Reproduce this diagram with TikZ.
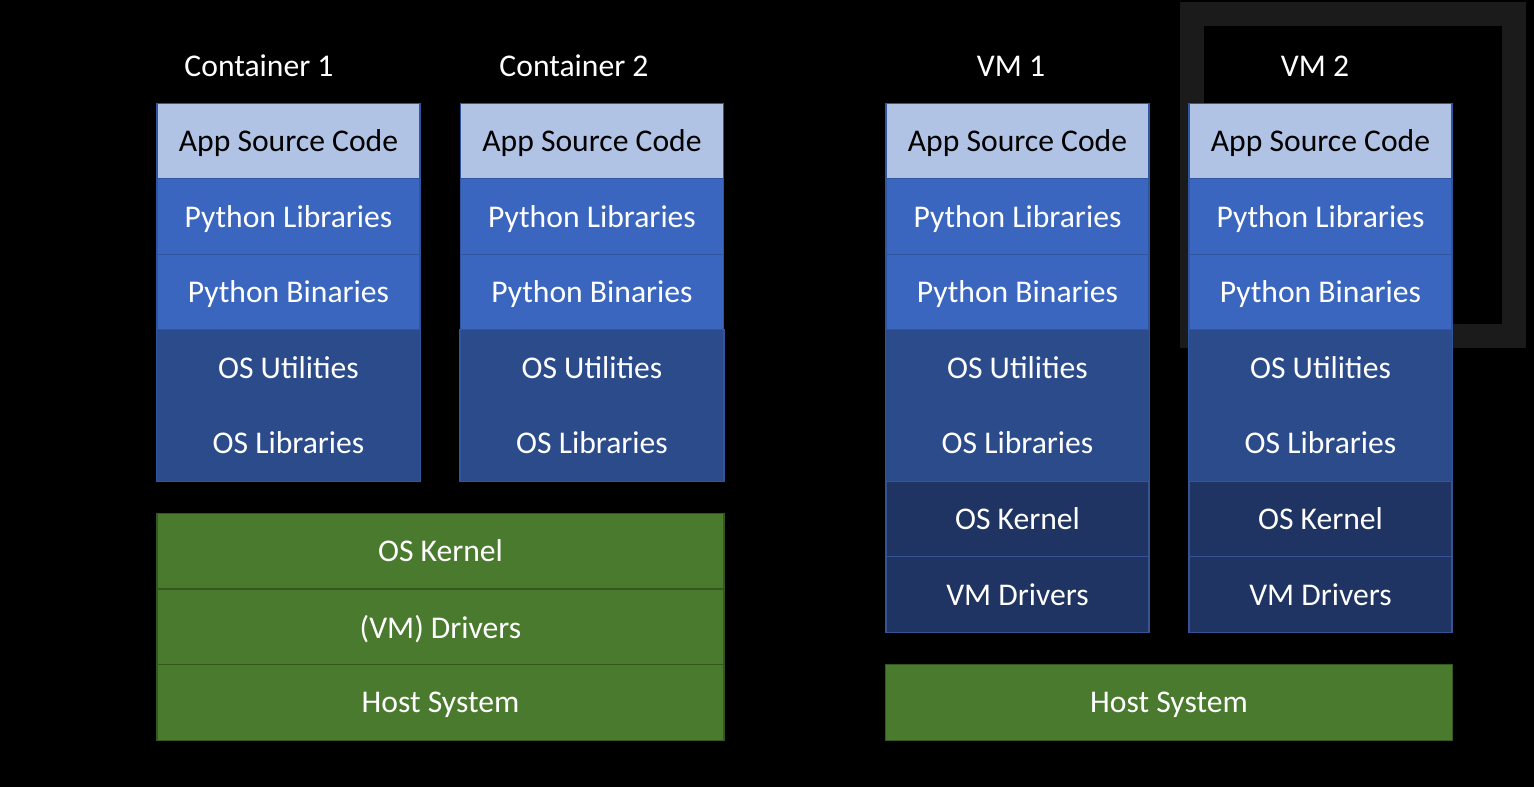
\documentclass[tikz,border=0pt]{standalone}
\usepackage{fontspec}
\setmainfont{Carlito}
\definecolor{appblue}{RGB}{176,195,229}
\definecolor{pyblue}{RGB}{58,102,192}
\definecolor{osblue}{RGB}{43,75,139}
\definecolor{kernblue}{RGB}{31,52,98}
\definecolor{edgeblue}{RGB}{48,86,160}
\definecolor{kernedge}{RGB}{52,84,150}
\definecolor{hostgreen}{RGB}{74,122,46}
\definecolor{edgegreen}{RGB}{52,88,33}
\definecolor{framegray}{RGB}{27,27,27}
\begin{document}
\begin{tikzpicture}[x=0.02cm,y=-0.02cm,
  layer/.style={rectangle, draw=edgeblue, line width=0.7pt, minimum width=5.26cm, minimum height=1.51cm, inner sep=0pt, text depth=0pt, text=white, font=\fontsize{18}{22}\selectfont},
  app/.style={layer, fill=appblue, text=black},
  py/.style={layer, fill=pyblue},
  os/.style={layer, fill=osblue, draw=osblue},
  kern/.style={layer, fill=kernblue, draw=kernedge},
  host/.style={layer, fill=hostgreen, draw=edgegreen, minimum width=11.34cm},
  title/.style={text=white, font=\fontsize{18}{22}\selectfont}]
\fill[black] (0,0) rectangle (1534,787);
\fill[framegray] (1180,2) rectangle (1526,348);
\fill[black] (1204,26) rectangle (1502,324);

\node[title](t1) at (259,66) {Container 1};
\node[title](t2) at (574,66) {Container 2};
\node[title](t3) at (1011,66) {VM 1};
\node[title](t4) at (1315,66) {VM 2};

\foreach \col/\x in {c1/288.5, c2/592, v1/1017.5, v2/1320.5}{
  \node[app](\col-app) at (\x,141) {App Source Code};
  \node[py](\col-pylib) at (\x,216.5) {Python Libraries};
  \node[py](\col-pybin) at (\x,292) {Python Binaries};
  \node[os](\col-osutil) at (\x,367.5) {OS Utilities};
  \node[os](\col-oslib) at (\x,443) {OS Libraries};
}
\draw[edgeblue, line width=0.7pt] (c1-osutil.north west) rectangle (c1-oslib.south east);
\draw[edgeblue, line width=0.7pt] (c2-osutil.north west) rectangle (c2-oslib.south east);

% virtual machines bring their own kernel
\foreach \col/\x in {v1/1017.5, v2/1320.5}{
  \node[kern](\col-kernel) at (\x,519) {OS Kernel};
  \node[kern](\col-drivers) at (\x,594.5) {VM Drivers};
  \draw[edgeblue, line width=0.7pt] (\col-osutil.north west) rectangle (\col-oslib.south east);
}

% shared host
\node[host](ckernel) at (440.5,551) {OS Kernel};
\node[host](cdrivers) at (440.5,627) {(VM) Drivers};
\node[host](chost) at (440.5,702.5) {Host System};
\node[host](vhost) at (1169,702.5) {Host System};
\end{tikzpicture}
\end{document}
